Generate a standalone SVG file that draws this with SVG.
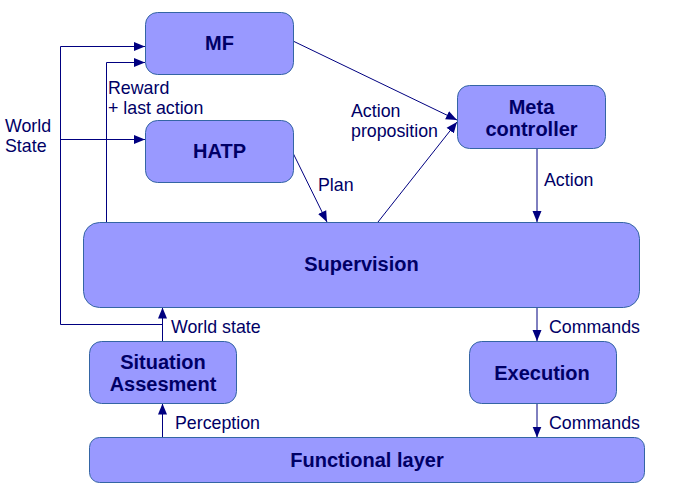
<svg xmlns="http://www.w3.org/2000/svg" width="674" height="497" viewBox="0 0 674 497">
<style>
.node{fill:#9999ff;stroke:#3465a4;stroke-width:1}
.nt{font-family:"Liberation Sans",Arial,sans-serif;font-size:20px;font-weight:bold;fill:#000066;text-anchor:middle}
.lb{font-family:"Liberation Sans",Arial,sans-serif;font-size:17.8px;fill:#000066}
.c{fill:none;stroke:#000080;stroke-width:1}
</style>
<defs>
<marker id="ah" markerUnits="userSpaceOnUse" markerWidth="12" markerHeight="10" refX="11" refY="4.5" orient="auto" viewBox="0 0 12 9">
<path d="M0,0 L11,4.5 L0,9 Z" fill="#000080"/>
</marker>
</defs>
<rect width="674" height="497" fill="#ffffff"/>
<g id="connectors">
<polyline class="c" points="60.5,324.5 60.5,46.5 145,46.5" marker-end="url(#ah)"/>
<line class="c" x1="60.5" y1="139.5" x2="145" y2="139.5" marker-end="url(#ah)"/>
<polyline class="c" points="162.5,324.5 60.5,324.5"/>
<line class="c" x1="162.5" y1="341" x2="162.5" y2="307.5" marker-end="url(#ah)"/>
<polyline class="c" points="106.5,222 106.5,62.5 145,62.5" marker-end="url(#ah)"/>
<line class="c" x1="293" y1="41" x2="457" y2="120" marker-end="url(#ah)"/>
<line class="c" x1="378" y1="222" x2="457" y2="122" marker-end="url(#ah)"/>
<line class="c" x1="293" y1="153" x2="327" y2="222" marker-end="url(#ah)"/>
<line class="c" x1="537" y1="148.5" x2="537" y2="222" marker-end="url(#ah)"/>
<line class="c" x1="537" y1="307.5" x2="537" y2="341" marker-end="url(#ah)"/>
<line class="c" x1="537" y1="403.5" x2="537" y2="437.5" marker-end="url(#ah)"/>
<line class="c" x1="162.5" y1="437.5" x2="162.5" y2="403.5" marker-end="url(#ah)"/>
<text class="lb" x="5" y="132">World</text>
<text class="lb" x="5" y="152">State</text>
<text class="lb" x="108" y="94">Reward</text>
<text class="lb" x="108" y="114">+ last action</text>
<text class="lb" x="351" y="117">Action</text>
<text class="lb" x="351" y="137">proposition</text>
<text class="lb" x="318" y="191">Plan</text>
<text class="lb" x="544" y="186">Action</text>
<text class="lb" x="171" y="333">World state</text>
<text class="lb" x="549" y="333">Commands</text>
<text class="lb" x="549" y="429">Commands</text>
<text class="lb" x="175" y="429">Perception</text>
</g>
<g id="mf">
<rect class="node" x="145.5" y="12.5" width="148" height="62" rx="12"/>
<text class="nt" x="219.5" y="50">MF</text>
</g>
<g id="hatp">
<rect class="node" x="145.5" y="120.5" width="148" height="62" rx="12"/>
<text class="nt" x="219.5" y="158">HATP</text>
</g>
<g id="meta">
<rect class="node" x="457.5" y="85.5" width="148" height="63" rx="12"/>
<text class="nt" x="531.5" y="114">Meta</text>
<text class="nt" x="531.5" y="135.5">controller</text>
</g>
<g id="supervision">
<rect class="node" x="83.5" y="222.5" width="556" height="85" rx="16"/>
<text class="nt" x="361.5" y="271">Supervision</text>
</g>
<g id="situation">
<rect class="node" x="89.5" y="341.5" width="147" height="62" rx="12"/>
<text class="nt" x="163" y="369">Situation</text>
<text class="nt" x="163" y="390.5">Assesment</text>
</g>
<g id="execution">
<rect class="node" x="469.5" y="341.5" width="147" height="62" rx="12"/>
<text class="nt" x="542" y="379.5">Execution</text>
</g>
<g id="functional">
<rect class="node" x="89.5" y="437.5" width="555" height="45" rx="10"/>
<text class="nt" x="367" y="467">Functional layer</text>
</g>
</svg>
